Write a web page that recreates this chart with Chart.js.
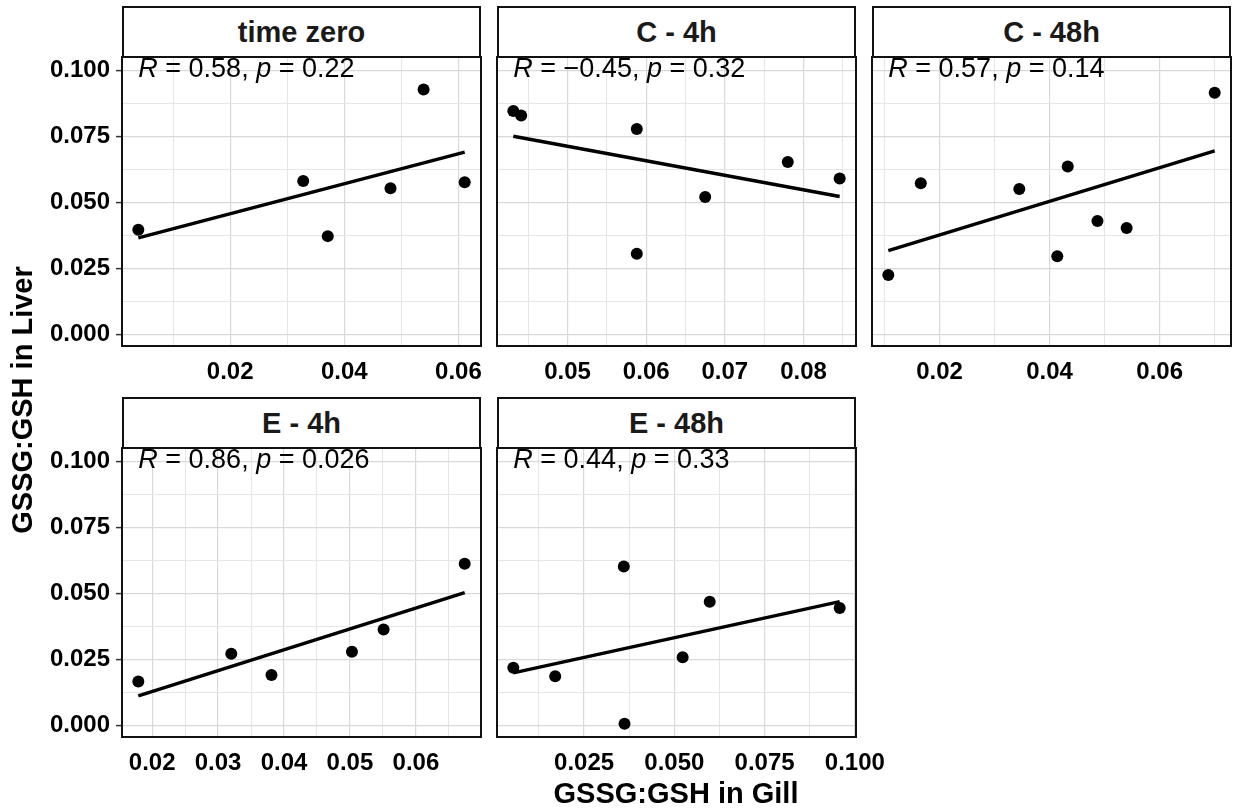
<!DOCTYPE html>
<html>
<head>
<meta charset="utf-8">
<script src="https://cdn.jsdelivr.net/npm/chart.js@4/dist/chart.umd.min.js"></script>
<style>
  html, body { margin: 0; padding: 0; background: #fff; }
  #wrap { position: relative; width: 1235px; height: 808px; overflow: hidden; background: #fff;
          font-family: "Liberation Sans", Arial, sans-serif; }
  #wrap canvas { position: absolute; }
  .strip { position: absolute; box-sizing: border-box; border: 2px solid #111; background: #fff;
           font-weight: bold; font-size: 29px; color: #1a1a1a; text-align: center; }
  .title { position: absolute; font-weight: bold; font-size: 29px; color: #000; text-align: center;
           white-space: nowrap; }
</style>
</head>
<body>
<div id="wrap"></div>
<script>
// ---------------- data ----------------
const panelTitles = ['time zero', 'C - 4h', 'C - 48h', 'E - 4h', 'E - 48h'];
const corrR = ['0.58', '\u22120.45', '0.57', '0.86', '0.44'];
const corrP = ['0.22', '0.32', '0.14', '0.026', '0.33'];
const CORR_LABEL_Y = 0.1;

const gillTimeZero  = [0.0039, 0.0328, 0.0371, 0.0481, 0.0539, 0.0611];
const liverTimeZero = [0.0396, 0.0581, 0.0372, 0.0553, 0.0927, 0.0576];

const gillC4h  = [0.0431, 0.0441, 0.0588, 0.0588, 0.0675, 0.0780, 0.0846];
const liverC4h = [0.0845, 0.0828, 0.0777, 0.0305, 0.0520, 0.0652, 0.0590];

const gillC48h  = [0.0107, 0.0166, 0.0345, 0.0414, 0.0433, 0.0487, 0.0540, 0.0700];
const liverC48h = [0.0225, 0.0572, 0.0550, 0.0296, 0.0635, 0.0429, 0.0403, 0.0914];

const gillE4h  = [0.0179, 0.0320, 0.0381, 0.0503, 0.0551, 0.0674];
const liverE4h = [0.0166, 0.0271, 0.0191, 0.0279, 0.0363, 0.0612];

const gillE48h  = [0.0054, 0.0170, 0.0360, 0.0362, 0.0523, 0.0598, 0.0958];
const liverE48h = [0.0218, 0.0186, 0.0601, 0.0006, 0.0258, 0.0468, 0.0444];

const yTicks      = [0, 0.025, 0.05, 0.075, 0.1];
const yTickLabels = ['0.000', '0.025', '0.050', '0.075', '0.100'];
const yMinorTicks = [0.0125, 0.0375, 0.0625, 0.0875];

const xTicksTimeZero = [0.02, 0.04, 0.06];       const xLabelsTimeZero = ['0.02', '0.04', '0.06'];
const xMinorTimeZero = [0.01, 0.03, 0.05];
const xTicksC4h = [0.05, 0.06, 0.07, 0.08];      const xLabelsC4h = ['0.05', '0.06', '0.07', '0.08'];
const xMinorC4h = [0.045, 0.055, 0.065, 0.075, 0.085];
const xTicksC48h = [0.02, 0.04, 0.06];           const xLabelsC48h = ['0.02', '0.04', '0.06'];
const xMinorC48h = [0.01, 0.03, 0.05, 0.07];
const xTicksE4h = [0.02, 0.03, 0.04, 0.05, 0.06]; const xLabelsE4h = ['0.02', '0.03', '0.04', '0.05', '0.06'];
const xMinorE4h = [0.015, 0.025, 0.035, 0.045, 0.055, 0.065];
const xTicksE48h = [0.025, 0.05, 0.075, 0.1];    const xLabelsE48h = ['0.025', '0.050', '0.075', '0.100'];
const xMinorE48h = [0.0125, 0.0375, 0.0625, 0.0875];

const Y_TITLE = 'GSSG:GSH in Liver';
const X_TITLE = 'GSSG:GSH in Gill';

// ---------------- helpers ----------------
const FONT = '"Liberation Sans", Arial, sans-serif';
function expand5(vals) {
  const mn = Math.min(...vals), mx = Math.max(...vals), d = (mx - mn) * 0.05;
  return [mn - d, mx + d];
}
function lmFit(xs, ys) {
  const n = xs.length;
  const mx = xs.reduce((a, b) => a + b, 0) / n, my = ys.reduce((a, b) => a + b, 0) / n;
  let sxy = 0, sxx = 0;
  for (let i = 0; i < n; i++) { sxy += (xs[i] - mx) * (ys[i] - my); sxx += (xs[i] - mx) ** 2; }
  const b = sxy / sxx;
  return { slope: b, intercept: my - b * mx };
}
function near(v, arr) { return arr.findIndex(a => Math.abs(a - v) < 1e-9); }

const [yMin, yMax] = expand5([].concat(liverTimeZero, liverC4h, liverC48h, liverE4h, liverE48h, [CORR_LABEL_Y]));

const panels = [
  { x: gillTimeZero, y: liverTimeZero, ticks: xTicksTimeZero, labels: xLabelsTimeZero, minor: xMinorTimeZero },
  { x: gillC4h,      y: liverC4h,      ticks: xTicksC4h,      labels: xLabelsC4h,      minor: xMinorC4h },
  { x: gillC48h,     y: liverC48h,     ticks: xTicksC48h,     labels: xLabelsC48h,     minor: xMinorC48h },
  { x: gillE4h,      y: liverE4h,      ticks: xTicksE4h,      labels: xLabelsE4h,      minor: xMinorE4h },
  { x: gillE48h,     y: liverE48h,     ticks: xTicksE48h,     labels: xLabelsE48h,     minor: xMinorE48h }
];

// layout (pixels)
const PLOT_W = 359, PLOT_H = 289, X_AXIS_H = 45, RIGHT_PAD = 60, TOP_PAD = 40, LEFT_PAD = 40;
const colLeft = [122, 497, 872];
const rowTop = [57, 448];
const Y_AXIS_W = 122;

const GRID_MAJOR = '#d9d9d9', GRID_MINOR = '#e6e6e6';

const borderPlugin = {
  id: 'panelBorder',
  afterDraw(chart) {
    const a = chart.chartArea, ctx = chart.ctx;
    ctx.save();
    ctx.strokeStyle = '#111';
    ctx.lineWidth = 2;
    ctx.strokeRect(a.left, a.top, a.right - a.left, a.bottom - a.top);
    ctx.restore();
  }
};
const corrPlugin = {
  id: 'corrLabel',
  afterDatasetsDraw(chart, args, opts) {
    const ctx = chart.ctx;
    let x = chart.scales.x.getPixelForValue(opts.xValue);
    const y = chart.scales.y.getPixelForValue(opts.yValue) - 1;
    const parts = [
      ['italic', 'R'], ['normal', ' = ' + opts.r + ', '], ['italic', 'p'], ['normal', ' = ' + opts.p]
    ];
    ctx.save();
    ctx.fillStyle = '#000';
    ctx.textBaseline = 'middle';
    ctx.textAlign = 'left';
    for (const [style, txt] of parts) {
      ctx.font = style + ' 27px ' + FONT;
      ctx.fillText(txt, x, y);
      x += ctx.measureText(txt).width;
    }
    ctx.restore();
  }
};

const wrap = document.getElementById('wrap');

panels.forEach((p, i) => {
  const row = Math.floor(i / 3), col = i % 3;
  const leftCol = col === 0;
  const plotLeft = colLeft[col], plotTop = rowTop[row];

  // strip
  const strip = document.createElement('div');
  strip.className = 'strip';
  strip.style.left = plotLeft + 'px';
  strip.style.top = (plotTop - 51) + 'px';
  strip.style.width = PLOT_W + 'px';
  strip.style.height = '52px';
  strip.style.lineHeight = '48px';
  strip.textContent = panelTitles[i];
  wrap.appendChild(strip);

  // canvas
  const padL = leftCol ? 0 : LEFT_PAD;
  const cLeft = leftCol ? plotLeft - Y_AXIS_W : plotLeft - LEFT_PAD;
  const cTop = plotTop - TOP_PAD;
  const cW = (leftCol ? Y_AXIS_W : LEFT_PAD) + PLOT_W + RIGHT_PAD;
  const cH = TOP_PAD + PLOT_H + X_AXIS_H;
  const canvas = document.createElement('canvas');
  canvas.width = cW; canvas.height = cH;
  canvas.style.left = cLeft + 'px'; canvas.style.top = cTop + 'px';
  canvas.style.width = cW + 'px'; canvas.style.height = cH + 'px';
  wrap.appendChild(canvas);

  const [xMin, xMax] = expand5(p.x);
  const fit = lmFit(p.x, p.y);
  const x0 = Math.min(...p.x), x1 = Math.max(...p.x);
  const allX = p.ticks.concat(p.minor).sort((a, b) => a - b);
  const allY = yTicks.concat(yMinorTicks).sort((a, b) => a - b);

  new Chart(canvas, {
    type: 'scatter',
    data: {
      datasets: [
        {
          type: 'line',
          data: [{ x: x0, y: fit.intercept + fit.slope * x0 }, { x: x1, y: fit.intercept + fit.slope * x1 }],
          borderColor: '#000', borderWidth: 3.4, pointRadius: 0, fill: false, tension: 0,
          borderCapStyle: 'butt', order: 1
        },
        {
          type: 'scatter',
          data: p.x.map((xv, k) => ({ x: xv, y: p.y[k] })),
          backgroundColor: '#000', borderColor: '#000', borderWidth: 0,
          pointRadius: 6, pointHoverRadius: 6, order: 0
        }
      ]
    },
    options: {
      responsive: false, animation: false, devicePixelRatio: 1, events: [],
      layout: { padding: { left: padL, top: TOP_PAD, right: RIGHT_PAD, bottom: 0 } },
      plugins: {
        legend: { display: false }, tooltip: { enabled: false },
        corrLabel: { r: corrR[i], p: corrP[i], xValue: x0, yValue: CORR_LABEL_Y }
      },
      scales: {
        x: {
          type: 'linear', position: 'bottom', min: xMin, max: xMax,
          afterBuildTicks: s => { s.ticks = allX.filter(v => v >= s.min && v <= s.max).map(v => ({ value: v })); },
          afterFit: s => { s.height = X_AXIS_H; },
          border: { display: false },
          grid: {
            drawTicks: false,
            color: c => (c.tick && near(c.tick.value, p.ticks) >= 0) ? GRID_MAJOR : GRID_MINOR,
            lineWidth: c => (c.tick && near(c.tick.value, p.ticks) >= 0) ? 1.2 : 1
          },
          ticks: {
            autoSkip: false, maxRotation: 0, minRotation: 0, padding: 12,
            color: '#000', font: { family: FONT, size: 24, weight: 'bold' },
            callback: v => { const k = near(v, p.ticks); return k >= 0 ? p.labels[k] : ''; }
          }
        },
        y: {
          type: 'linear', position: 'left', min: yMin, max: yMax,
          afterBuildTicks: s => { s.ticks = allY.filter(v => v >= s.min && v <= s.max).map(v => ({ value: v })); },
          afterFit: s => { s.width = leftCol ? Y_AXIS_W : 0; },
          border: { display: false },
          grid: {
            drawTicks: leftCol, tickLength: 6,
            color: c => (c.tick && near(c.tick.value, yTicks) >= 0) ? GRID_MAJOR : GRID_MINOR,
            lineWidth: c => (c.tick && near(c.tick.value, yTicks) >= 0) ? 1.2 : 1,
            tickColor: c => (c.tick && near(c.tick.value, yTicks) >= 0) ? '#333' : 'rgba(0,0,0,0)',
            tickWidth: 1.5
          },
          ticks: {
            display: leftCol, autoSkip: false, padding: 6,
            color: '#000', font: { family: FONT, size: 24, weight: 'bold' },
            callback: v => { const k = near(v, yTicks); return k >= 0 ? yTickLabels[k] : ''; }
          }
        }
      }
    },
    plugins: [corrPlugin, borderPlugin]
  });
});

// axis titles
const yt = document.createElement('div');
yt.className = 'title';
yt.textContent = Y_TITLE;
yt.style.width = '400px'; yt.style.height = '34px'; yt.style.lineHeight = '34px';
yt.style.left = (22 - 200) + 'px'; yt.style.top = (400 - 17) + 'px';
yt.style.transform = 'rotate(-90deg)';
wrap.appendChild(yt);

const xt = document.createElement('div');
xt.className = 'title';
xt.textContent = X_TITLE;
xt.style.width = '400px'; xt.style.height = '34px'; xt.style.lineHeight = '34px';
xt.style.left = (676 - 200) + 'px'; xt.style.top = (793 - 17) + 'px';
wrap.appendChild(xt);
</script>
</body>
</html>
